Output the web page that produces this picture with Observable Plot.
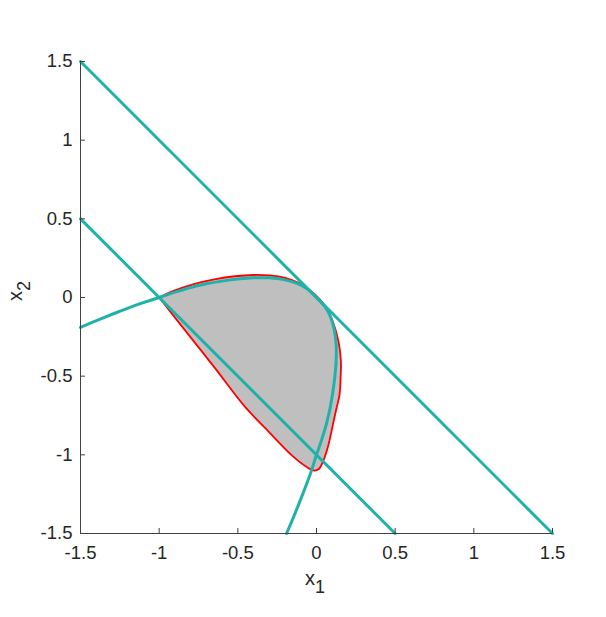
<!DOCTYPE html>
<html>
<head>
<meta charset="utf-8">
<script src="https://cdn.jsdelivr.net/npm/d3@7"></script>
<script src="https://cdn.jsdelivr.net/npm/@observablehq/plot@0.6"></script>
<style>
  html, body { margin: 0; padding: 0; background: #fff; }
  svg { display: block; }
</style>
</head>
<body>
<div id="chart"></div>
<script>
// Tick values
const tickValues = [-1.5, -1, -0.5, 0, 0.5, 1, 1.5];

// Straight constraint lines (endpoints)
const lineAX = [-1.5, 1.5];
const lineAY = [1.5, -1.5];
const lineBX = [-1.5, 0.5];
const lineBY = [0.5, -1.5];

// Curved constraint
const curveX = [-1.5, -1.375, -1.25, -1.125, -1.0, -0.9, -0.8, -0.7, -0.6, -0.5, -0.4, -0.3, -0.2, -0.12, -0.06, 0.0,
                0.055, 0.088, 0.112, 0.125, 0.125, 0.117, 0.104, 0.087, 0.064, 0.034, 0.0, -0.0406, -0.0875, -0.1375, -0.19];
const curveY = [-0.19, -0.1375, -0.0875, -0.0406, 0.0, 0.034, 0.064, 0.087, 0.104, 0.117, 0.125, 0.125, 0.112, 0.088, 0.055, 0.0,
                -0.06, -0.12, -0.2, -0.3, -0.4, -0.5, -0.6, -0.7, -0.8, -0.9, -1.0, -1.125, -1.25, -1.375, -1.5];

// Shaded region outline (red)
const regionX = [-1.0, -0.9, -0.78, -0.65, -0.52, -0.4, -0.3, -0.2, -0.11, -0.04, 0.02, 0.07, 0.11, 0.14, 0.155, 0.154,
                 0.146, 0.128, 0.108, 0.075, 0.04, 0.015, -0.015, -0.05, -0.144, -0.3, -0.462, -0.64, -0.83, -1.0];
const regionY = [0.0, 0.045, 0.085, 0.115, 0.135, 0.143, 0.14, 0.125, 0.092, 0.045, -0.01, -0.08, -0.17, -0.28, -0.4, -0.49,
                 -0.62, -0.7, -0.79, -0.94, -1.045, -1.09, -1.1, -1.085, -1.015, -0.857, -0.686, -0.455, -0.215, 0.0];

const pts = (xs, ys) => xs.map((x, i) => ({x, y: ys[i]}));

const teal = "#20b2aa";
const axisColor = "#404040";
const fontFamily = "'Liberation Sans', Arial, Helvetica, sans-serif";

const plot = Plot.plot({
  width: 606,
  height: 617,
  marginLeft: 80,
  marginRight: 54,
  marginTop: 61,
  marginBottom: 84,
  style: {fontFamily, fontSize: "18px", color: "#262626", background: "#fff"},
  x: {domain: [-1.5, 1.5]},
  y: {domain: [-1.5, 1.5]},
  marks: [
    Plot.line(pts(regionX, regionY), {x: "x", y: "y", fill: "#bfbfbf", stroke: "#ff0000", strokeWidth: 1.8, curve: "catmull-rom"}),
    Plot.line(pts(lineAX, lineAY), {x: "x", y: "y", stroke: teal, strokeWidth: 3}),
    Plot.line(pts(lineBX, lineBY), {x: "x", y: "y", stroke: teal, strokeWidth: 3}),
    Plot.line(pts(curveX, curveY), {x: "x", y: "y", stroke: teal, strokeWidth: 3, curve: "catmull-rom"}),
    Plot.ruleY([-1.5], {stroke: axisColor, strokeWidth: 1}),
    Plot.ruleX([-1.5], {stroke: axisColor, strokeWidth: 1}),
    Plot.axisX(tickValues, {anchor: "bottom", tickSize: -5, tickPadding: 17, stroke: axisColor, tickFormat: d => `${d}`, label: null, fontSize: 18.5}),
    Plot.axisY(tickValues, {anchor: "left", tickSize: -5, tickPadding: 13, stroke: axisColor, tickFormat: d => `${d}`, label: null, fontSize: 18.5})
  ]
});

document.getElementById("chart").appendChild(plot);

// Axis labels with subscripts
const svg = d3.select(plot);
const xs = plot.scale("x"), ys = plot.scale("y");
const xl = svg.append("text")
  .attr("x", xs.apply(0) - 1)
  .attr("y", 585)
  .attr("text-anchor", "middle")
  .attr("fill", "#262626")
  .style("font-family", fontFamily)
  .style("font-size", "20px");
xl.append("tspan").text("x");
xl.append("tspan").attr("dy", 8).style("font-size", "18px").text("1");

const yl = svg.append("text")
  .attr("transform", `translate(22, ${ys.apply(0) - 6}) rotate(-90)`)
  .attr("text-anchor", "middle")
  .attr("fill", "#262626")
  .style("font-family", fontFamily)
  .style("font-size", "20px");
yl.append("tspan").text("x");
yl.append("tspan").attr("dy", 8).style("font-size", "18px").text("2");
</script>
</body>
</html>
